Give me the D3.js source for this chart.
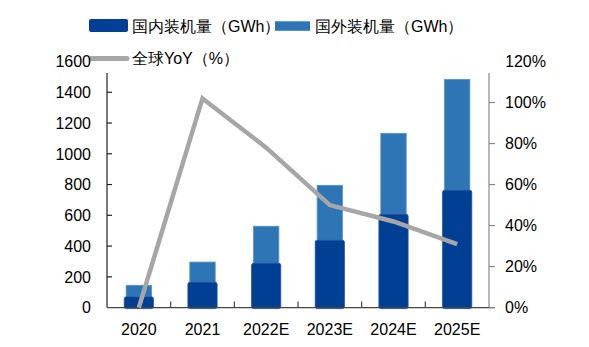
<!DOCTYPE html>
<html><head><meta charset="utf-8">
<script src="https://cdn.jsdelivr.net/npm/d3@7"></script>
<style>body{margin:0;background:#fff}svg{display:block}text{font-family:"Liberation Sans",Arial,sans-serif;fill:#000}</style>
</head><body><svg id="c" width="589" height="347"></svg>
<script>
const categories = ["2020","2021","2022E","2023E","2024E","2025E"];
const domestic = [70,165,288,438,607,763];
const overseas = [75,131,241,357,526,721];
const yoy = [0,102,78,50,42,31];
const leftTicks = [0,200,400,600,800,1000,1200,1400,1600];
const rightTicks = [0,0.2,0.4,0.6,0.8,1.0,1.2];
const legendLabels = ["国内装机量（GWh）","国外装机量（GWh）","全球YoY（%）"];

const DARK="#003f93", LIGHT="#2e75b6", GRAY="#a6a6a6";
const svg = d3.select("#c");
const L=107, R=489, B=307.6, T=61.5;
const x = d3.scaleBand().domain(categories).range([L,R]);
const y = d3.scaleLinear().domain([0,1600]).range([B,T]);
const y2 = d3.scaleLinear().domain([0,1.2]).range([B,T]);
const cx = c => x(c)+x.bandwidth()/2;

// bars
const g = svg.append("g");
g.selectAll(".ov").data(categories).join("rect")
  .attr("x",c=>cx(c)-12.7).attr("width",25.4)
  .attr("y",(c,i)=>y(domestic[i]+overseas[i]))
  .attr("height",(c,i)=>y(domestic[i])-y(domestic[i]+overseas[i]))
  .attr("fill",LIGHT).attr("stroke","#5a92c9").attr("stroke-width",0.8);
g.selectAll(".dm").data(categories).join("rect")
  .attr("x",c=>cx(c)-14.6).attr("width",29.2)
  .attr("y",(c,i)=>y(domestic[i])).attr("height",(c,i)=>B-y(domestic[i])+1)
  .attr("rx",2).attr("fill",DARK).attr("stroke","#1c52a0").attr("stroke-width",0.8);

// axes
const ax = svg.append("g").attr("stroke-width",1.2);
ax.append("line").attr("x1",L).attr("x2",L).attr("y1",73).attr("y2",B).attr("stroke","#222");
ax.append("line").attr("x1",R).attr("x2",R).attr("y1",73).attr("y2",B).attr("stroke","#888");
ax.append("line").attr("x1",L).attr("x2",R+6).attr("y1",B).attr("y2",B).attr("stroke","#444");
ax.selectAll(".lt").data(leftTicks.filter(v=>v>0&&v<1600)).join("line")
  .attr("x1",L).attr("x2",L+5).attr("y1",v=>y(v)).attr("y2",v=>y(v)).attr("stroke","#222");
ax.selectAll(".rt").data(rightTicks.filter(v=>v<1.2)).join("line")
  .attr("x1",R).attr("x2",R+6).attr("y1",v=>y2(v)).attr("y2",v=>y2(v)).attr("stroke","#888");
ax.selectAll(".xt").data(categories.slice(1)).join("line")
  .attr("x1",c=>x(c)).attr("x2",c=>x(c)).attr("y1",B).attr("y2",B-6).attr("stroke","#444");

svg.selectAll(".rl").data(rightTicks).join("text")
  .attr("x",505).attr("y",v=>y2(v)).attr("dy","0.36em")
  .attr("font-size",16).text(v=>Math.round(v*100)+"%");
svg.selectAll(".xl").data(categories).join("text")
  .attr("x",cx).attr("y",335).attr("text-anchor","middle")
  .attr("font-size",16).text(c=>c);

// line
const line = d3.line().x((d,i)=>cx(categories[i])).y(d=>y2(d/100));
svg.append("path").datum(yoy).attr("d",line).attr("fill","none")
  .attr("stroke",GRAY).attr("stroke-width",4.5).attr("stroke-linejoin","miter");

// legend
const lg = svg.append("g");
lg.append("rect").attr("x",100).attr("y",45).attr("width",406.5).attr("height",27.5).attr("fill","#fff");
lg.append("rect").attr("x",89).attr("y",19).attr("width",39).attr("height",13).attr("rx",2).attr("fill",DARK);
lg.append("rect").attr("x",275).attr("y",21.3).attr("width",35).attr("height",9.5).attr("fill",LIGHT);
lg.append("line").attr("x1",91).attr("x2",127).attr("y1",58.5).attr("y2",58.5)
  .attr("stroke",GRAY).attr("stroke-width",5).attr("stroke-linecap","round");
const lt = [[132,26],[315,26],[132,58]];
lg.selectAll(".lgt").data(legendLabels).join("text")
  .attr("x",(d,i)=>lt[i][0]).attr("y",(d,i)=>lt[i][1]).attr("dy","0.36em")
  .attr("font-size",16).text(d=>d);

svg.selectAll(".ll").data(leftTicks).join("text")
  .attr("x",91).attr("y",v=>y(v)).attr("dy","0.36em").attr("text-anchor","end")
  .attr("font-size",16).text(v=>v);
</script></body></html>
